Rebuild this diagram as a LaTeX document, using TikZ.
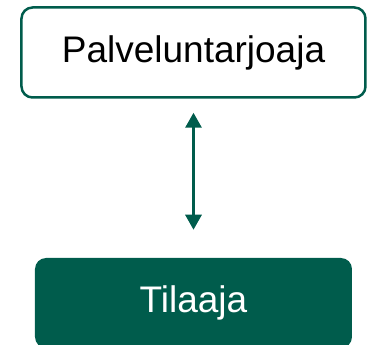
\documentclass[tikz,border=0pt]{standalone}
\usepackage{fontspec}
\setmainfont{Liberation Sans}
\usetikzlibrary{arrows.meta}
\definecolor{darkgreen}{RGB}{0,92,76}
\tikzset{
  every picture/.style={
    x=1pt, y=-1pt,
    >={Triangle[width=16pt, length=15pt]}
  },
  party/.style={
    rounded corners=11pt, line width=2.5pt,
    inner sep=0pt, font=\fontsize{37}{44}\selectfont
  }
}

\begin{document}
\begin{tikzpicture}
      \useasboundingbox (0,0) rectangle (368,345);
      \node[party, draw=darkgreen, minimum width=344pt, minimum height=90pt] (prov) at (193.5,52.5) {Palveluntarjoaja};
      \node[party, fill=darkgreen, text=white, minimum width=317pt, minimum height=90pt] (cust) at (193.5,303) {Tilaaja};
      \draw[<->, darkgreen, line width=3pt, shorten <=14pt, shorten >=27pt] (prov) -- (cust);
    \end{tikzpicture}
\end{document}
